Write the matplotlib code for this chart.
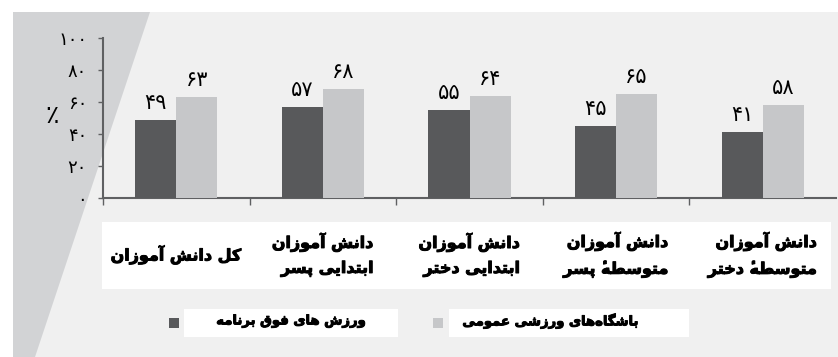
import matplotlib
matplotlib.use("Agg")
import matplotlib.pyplot as plt
import matplotlib.patheffects as pe
import numpy as np
from matplotlib.patches import Rectangle, Polygon

plt.rcParams["font.family"] = ["DejaVu Sans"]

# ---------------------------------------------------------------------------
# Data
# ---------------------------------------------------------------------------
categories = [
    "کل دانش آموزان",
    "دانش آموزان\nابتدایی پسر",
    "دانش آموزان\nابتدایی دختر",
    "دانش آموزان\nمتوسطهٔ پسر",
    "دانش آموزان\nمتوسطهٔ دختر",
]
extra_curricular = [49, 57, 55, 45, 41]
public_clubs = [63, 68, 64, 65, 58]
series_names = ["ورزش های فوق برنامه", "باشگاه\u200cهای ورزشی عمومی"]
y_ticks = [0, 20, 40, 60, 80, 100]

DARK = "#58595b"
LIGHT = "#c6c7c9"
AXIS = "#5f6062"

# ---------------------------------------------------------------------------
# Minimal Persian shaping (presentation forms + right-to-left order)
# ---------------------------------------------------------------------------
FORMS = {
    "ا": ("\uFE8D", "\uFE8E", None, None),
    "آ": ("\uFE81", "\uFE82", None, None),
    "ب": ("\uFE8F", "\uFE90", "\uFE91", "\uFE92"),
    "پ": ("\uFB56", "\uFB57", "\uFB58", "\uFB59"),
    "ت": ("\uFE95", "\uFE96", "\uFE97", "\uFE98"),
    "خ": ("\uFEA5", "\uFEA6", "\uFEA7", "\uFEA8"),
    "د": ("\uFEA9", "\uFEAA", None, None),
    "ر": ("\uFEAD", "\uFEAE", None, None),
    "ز": ("\uFEAF", "\uFEB0", None, None),
    "س": ("\uFEB1", "\uFEB2", "\uFEB3", "\uFEB4"),
    "ش": ("\uFEB5", "\uFEB6", "\uFEB7", "\uFEB8"),
    "ط": ("\uFEC1", "\uFEC2", "\uFEC3", "\uFEC4"),
    "ع": ("\uFEC9", "\uFECA", "\uFECB", "\uFECC"),
    "ف": ("\uFED1", "\uFED2", "\uFED3", "\uFED4"),
    "ق": ("\uFED5", "\uFED6", "\uFED7", "\uFED8"),
    "ک": ("\uFB8E", "\uFB8F", "\uFB90", "\uFB91"),
    "گ": ("\uFB92", "\uFB93", "\uFB94", "\uFB95"),
    "ل": ("\uFEDD", "\uFEDE", "\uFEDF", "\uFEE0"),
    "م": ("\uFEE1", "\uFEE2", "\uFEE3", "\uFEE4"),
    "ن": ("\uFEE5", "\uFEE6", "\uFEE7", "\uFEE8"),
    "ه": ("\uFEE9", "\uFEEA", "\uFEEB", "\uFEEC"),
    "و": ("\uFEED", "\uFEEE", None, None),
    "ی": ("\uFBFC", "\uFBFD", "\uFBFE", "\uFBFF"),
}
MARKS = {"\u0654"}


def shape_line(line):
    # group base letters with any following combining marks
    clusters = []
    for ch in line:
        if ch in MARKS and clusters:
            clusters[-1][1].append(ch)
        else:
            clusters.append([ch, []])
    bases = [c[0] for c in clusters]
    out = []
    for i, (ch, marks) in enumerate(clusters):
        g = ch
        if ch in FORMS:
            prev = bases[i - 1] if i > 0 else None
            nxt = bases[i + 1] if i + 1 < len(bases) else None
            join_prev = prev in FORMS and FORMS[prev][2] is not None
            join_next = nxt in FORMS and FORMS[ch][2] is not None
            iso, fin, ini, med = FORMS[ch]
            if join_prev and join_next:
                g = med
            elif join_prev:
                g = fin
            elif join_next:
                g = ini
            else:
                g = iso
        if ch == "\u200c":
            continue
        # marks go first so they sit over the glyph in left-to-right drawing
        out.append("".join(marks) + g)
    return "".join(out[::-1])


def fa(text):
    return "\n".join(shape_line(l) for l in text.split("\n"))


def fa_num(v):
    return str(v).translate(str.maketrans("0123456789", "۰۱۲۳۴۵۶۷۸۹"))


bold = [pe.withStroke(linewidth=0.7, foreground="black")]

# ---------------------------------------------------------------------------
# Figure, background panel and label boxes (pixel coordinates)
# ---------------------------------------------------------------------------
W, H = 838, 357
fig = plt.figure(figsize=(W / 100, H / 100), dpi=100)
fig.patch.set_facecolor("white")

bg = fig.add_axes([0, 0, 1, 1])
bg.set_xlim(0, W)
bg.set_ylim(H, 0)
bg.axis("off")
bg.add_patch(Rectangle((13, 12), W - 13, H - 12, color="#f0f0f0", lw=0))
bg.add_patch(Polygon([(13, 12), (150, 12), (35, H), (13, H)], color="#d2d3d5", lw=0))
bg.add_patch(Rectangle((102, 222), 729, 67, color="white", lw=0))
bg.add_patch(Rectangle((184, 309), 214, 28, color="white", lw=0))
bg.add_patch(Rectangle((449, 309), 240, 28, color="white", lw=0))

# legend keys
bg.add_patch(Rectangle((169, 318), 10, 10, color=DARK, lw=0))
bg.add_patch(Rectangle((433, 318), 10, 10, color=LIGHT, lw=0))
bg.text(367, 321, fa(series_names[0]), ha="right", va="center",
        fontsize=9.5, fontweight="bold", color="black", path_effects=bold)
bg.text(640, 321, fa(series_names[1]), ha="right", va="center",
        fontsize=9.5, fontweight="bold", color="black", path_effects=bold)

# percent sign beside the y axis
bg.text(52, 116, "٪", ha="center", va="center", fontsize=18, color="black")

# ---------------------------------------------------------------------------
# Bars
# ---------------------------------------------------------------------------
ax = fig.add_axes([103 / W, (H - 198) / H, (836 - 103) / W, 160 / H])
ax.set_facecolor("none")

x = np.arange(len(categories))
w = 0.28
b1 = ax.bar(x - w / 2, extra_curricular, width=w, color=DARK, zorder=3)
b2 = ax.bar(x + w / 2, public_clubs, width=w, color=LIGHT, zorder=3)

for bars, vals in ((b1, extra_curricular), (b2, public_clubs)):
    for rect, v in zip(bars, vals):
        ax.annotate(fa_num(v), (rect.get_x() + rect.get_width() / 2, v),
                    xytext=(0, 5), textcoords="offset points",
                    ha="center", va="bottom", fontsize=15, color="black")

ax.set_xlim(-0.5, len(categories) - 0.5)
ax.set_ylim(0, 100)
ax.set_yticks(y_ticks)
ax.set_yticklabels([fa_num(t) for t in y_ticks], fontsize=13)
ax.set_xticks(np.arange(-0.5, len(categories) - 1, 1.0))
ax.set_xticklabels([])
ax.tick_params(axis="y", direction="out", length=3.5, width=1, color=AXIS, pad=8)
ax.tick_params(axis="x", direction="out", length=5, width=1, color=AXIS)

for s in ("top", "right"):
    ax.spines[s].set_visible(False)
for s in ("left", "bottom"):
    ax.spines[s].set_color(AXIS)
    ax.spines[s].set_linewidth(1.5)

# category labels inside the white strip
for i, cat in enumerate(categories):
    xc = 103 + (i + 0.5) * (836 - 103) / len(categories)
    bg.text(xc, 255, fa(cat), ha="center", va="center", multialignment="right",
            fontsize=11.5, fontweight="bold", linespacing=1.75, color="black",
            path_effects=bold)

fig.savefig("out.png", dpi=100, facecolor=fig.get_facecolor())
